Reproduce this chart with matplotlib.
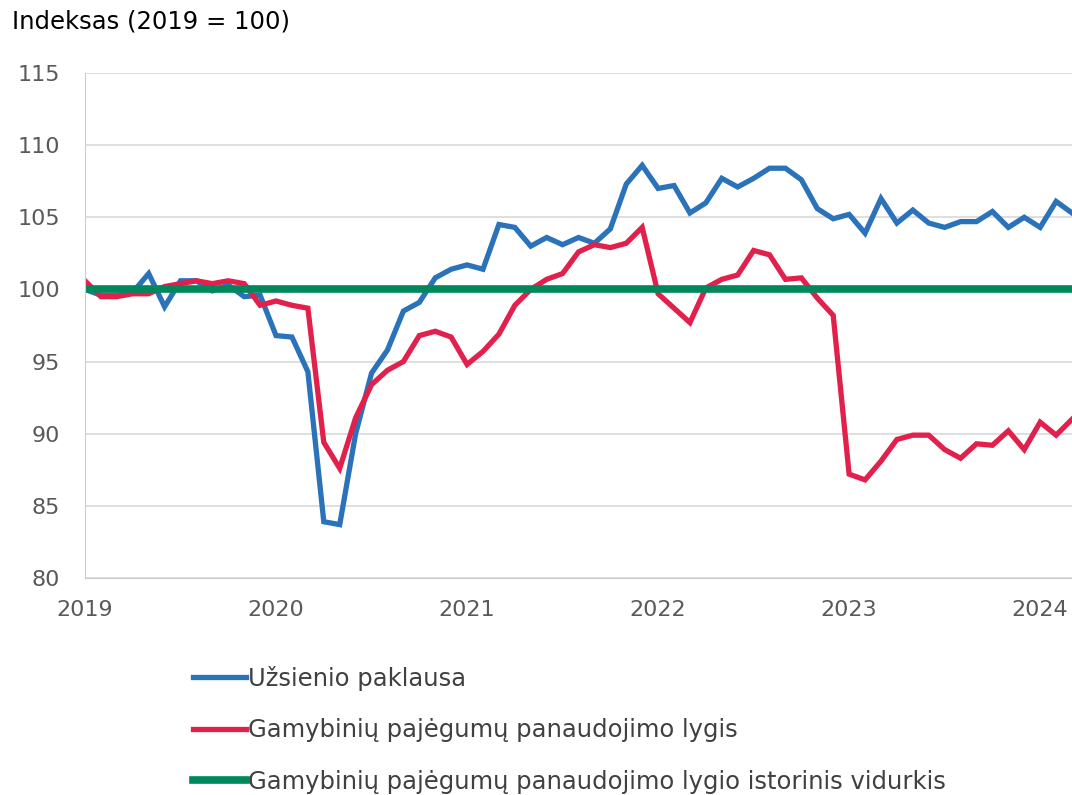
import matplotlib
matplotlib.use("Agg")
import matplotlib.pyplot as plt
import numpy as np

# monthly data, Jan 2019 .. Mar 2024
years = ["2019", "2020", "2021", "2022", "2023", "2024"]

foreign_demand = [
    100.0, 99.6, 99.6, 99.8, 101.1, 98.8, 100.6, 100.6, 99.9, 100.3, 99.5, 99.6,
    96.8, 96.7, 94.3, 83.9, 83.7, 90.0, 94.2, 95.8, 98.5, 99.1, 100.8, 101.4,
    101.7, 101.4, 104.5, 104.3, 103.0, 103.6, 103.1, 103.6, 103.2, 104.2, 107.3, 108.6,
    107.0, 107.2, 105.3, 106.0, 107.7, 107.1, 107.7, 108.4, 108.4, 107.6, 105.6, 104.9,
    105.2, 103.9, 106.3, 104.6, 105.5, 104.6, 104.3, 104.7, 104.7, 105.4, 104.3, 105.0,
    104.3, 106.1, 105.3,
]

capacity_util = [
    100.6, 99.5, 99.5, 99.7, 99.7, 100.2, 100.4, 100.6, 100.4, 100.6, 100.4, 98.9,
    99.2, 98.9, 98.7, 89.4, 87.6, 91.1, 93.4, 94.4, 95.0, 96.8, 97.1, 96.7,
    94.8, 95.7, 96.9, 98.9, 100.0, 100.7, 101.1, 102.6, 103.1, 102.9, 103.2, 104.3,
    99.7, 98.7, 97.7, 100.1, 100.7, 101.0, 102.7, 102.4, 100.7, 100.8, 99.4, 98.2,
    87.2, 86.8, 88.1, 89.6, 89.9, 89.9, 88.9, 88.3, 89.3, 89.2, 90.2, 88.9,
    90.8, 89.9, 91.0,
]

hist_avg = [100.0] * len(foreign_demand)

labels = [
    "Užsienio paklausa",
    "Gamybinių pajėgumų panaudojimo lygis",
    "Gamybinių pajėgumų panaudojimo lygio istorinis vidurkis",
]
colors = ["#2a72b9", "#e2204c", "#00885c"]

months = np.arange(len(foreign_demand))

fig = plt.figure(figsize=(10.72, 7.95), dpi=100)
ax = fig.add_axes([85 / 1072, 1 - 578 / 795, 1 - 85 / 1072, (578 - 73) / 795])

ax.plot(months, foreign_demand, color=colors[0], lw=3.8, label=labels[0], solid_joinstyle="miter")
ax.plot(months, capacity_util, color=colors[1], lw=3.8, label=labels[1], solid_joinstyle="miter")
ax.plot(months, hist_avg, color=colors[2], lw=5.5, label=labels[2])

ax.set_xlim(0, len(foreign_demand) - 1)
ax.set_ylim(80, 115)
ax.set_yticks(range(80, 116, 5))
ax.set_xticks(range(0, 12 * len(years), 12))
ax.set_xticklabels(years)
ax.grid(axis="y", color="#d9d9d9", lw=1.2)
ax.set_axisbelow(True)
for side in ["top", "right"]:
    ax.spines[side].set_visible(False)
ax.spines["left"].set_color("#cccccc")
ax.spines["bottom"].set_color("#cccccc")
ax.tick_params(axis="both", length=0, labelsize=16, colors="#595959")
ax.tick_params(axis="y", pad=18)
ax.tick_params(axis="x", pad=16)

fig.text(12 / 1072, 1 - 22 / 795, "Indeksas (2019 = 100)", fontsize=17.5,
         color="black", va="center", ha="left")

fig.legend(loc="upper left", bbox_to_anchor=(193 / 1072, 1 - 666 / 795), frameon=False,
           fontsize=17.5, handlelength=2.2, handletextpad=0.08, labelspacing=1.13,
           borderpad=0, borderaxespad=0, labelcolor="#404040")

fig.savefig("out.png", dpi=100)
